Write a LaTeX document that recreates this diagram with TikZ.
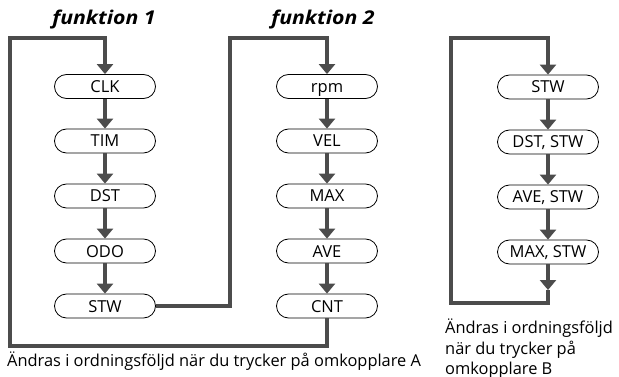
\documentclass[tikz,border=0pt]{standalone}
\usepackage{fontspec}
\setmainfont{Open Sans}
\usetikzlibrary{arrows.meta,shapes.misc}

\begin{document}
\begin{tikzpicture}[x=1pt,y=-1pt,
  flow/.style={draw=black!70,line width=4pt},
  arr/.style={flow,-{Triangle[width=16pt,length=10pt]}},
  mode/.style={draw=black,line width=0.8pt,rounded rectangle,
    minimum width=101pt,minimum height=24pt,inner sep=0pt,
    text height=12pt,text depth=0pt,
    font=\fontsize{16.5}{18}\selectfont},
  title/.style={font=\fontsize{19}{21}\selectfont\bfseries\itshape,inner sep=0pt},
  note/.style={font=\fontsize{16.4}{21}\selectfont,align=left,inner sep=0pt}]
\useasboundingbox (0,0) rectangle (619,377);

% titles
\node[title,anchor=base] (t1) at (104,24.5) {\scalebox{1.12}[1]{funktion 1}};
\node[title,anchor=base] (t2) at (323,24.5) {\scalebox{1.12}[1]{funktion 2}};

% funktion 1
\node[mode] (clk) at (105,86.5) {CLK};
\node[mode] (tim) at (105,141) {TIM};
\node[mode] (dst) at (105,196) {DST};
\node[mode] (odo) at (105,251) {ODO};
\node[mode] (stw) at (105,306) {STW};

% funktion 2
\node[mode] (rpm) at (327,86.5) {rpm};
\node[mode] (vel) at (327,141) {VEL};
\node[mode] (max) at (327,196) {MAX};
\node[mode] (ave) at (327,251) {AVE};
\node[mode] (cnt) at (327,306) {CNT};

% switch B
\node[mode] (b1) at (548,87) {STW};
\node[mode] (b2) at (548,142) {DST, STW};
\node[mode] (b3) at (548,197) {AVE, STW};
\node[mode] (b4) at (548,252) {MAX, STW};

% chains
\foreach \a/\b in {clk/tim,tim/dst,dst/odo,odo/stw,rpm/vel,vel/max,max/ave,ave/cnt,b1/b2,b2/b3,b3/b4}
  \draw[arr] (\a.south) -- (\b.north);

% loop of switch A
\draw[arr] (stw.east) -- (230,306) -- (230,38.5) -- (327,38.5) -- (rpm.north);
\draw[arr] (cnt.south) -- (327,345.5) -- (10,345.5) -- (10,38.5) -- (105,38.5) -- (clk.north);

% loop of switch B
\coordinate (btip) at (548,290);
\draw[arr] (b4.south) -- (btip);
\draw[flow] (btip) -- (548,302.5) -- (450.5,302.5) -- (450.5,38.5) -- (548,38.5) -- (548,40);
\draw[arr] (548,38.5) -- (b1.north);

% notes
\node[note,anchor=base west] (na) at (7,366) {Ändras i ordningsföljd när du trycker på omkopplare A};
\node[note,anchor=base west] (nb1) at (445,333) {Ändras i ordningsföljd};
\node[note,anchor=base west] (nb2) at (445,354) {när du trycker på};
\node[note,anchor=base west] (nb3) at (445,374) {omkopplare B};
\end{tikzpicture}
\end{document}
